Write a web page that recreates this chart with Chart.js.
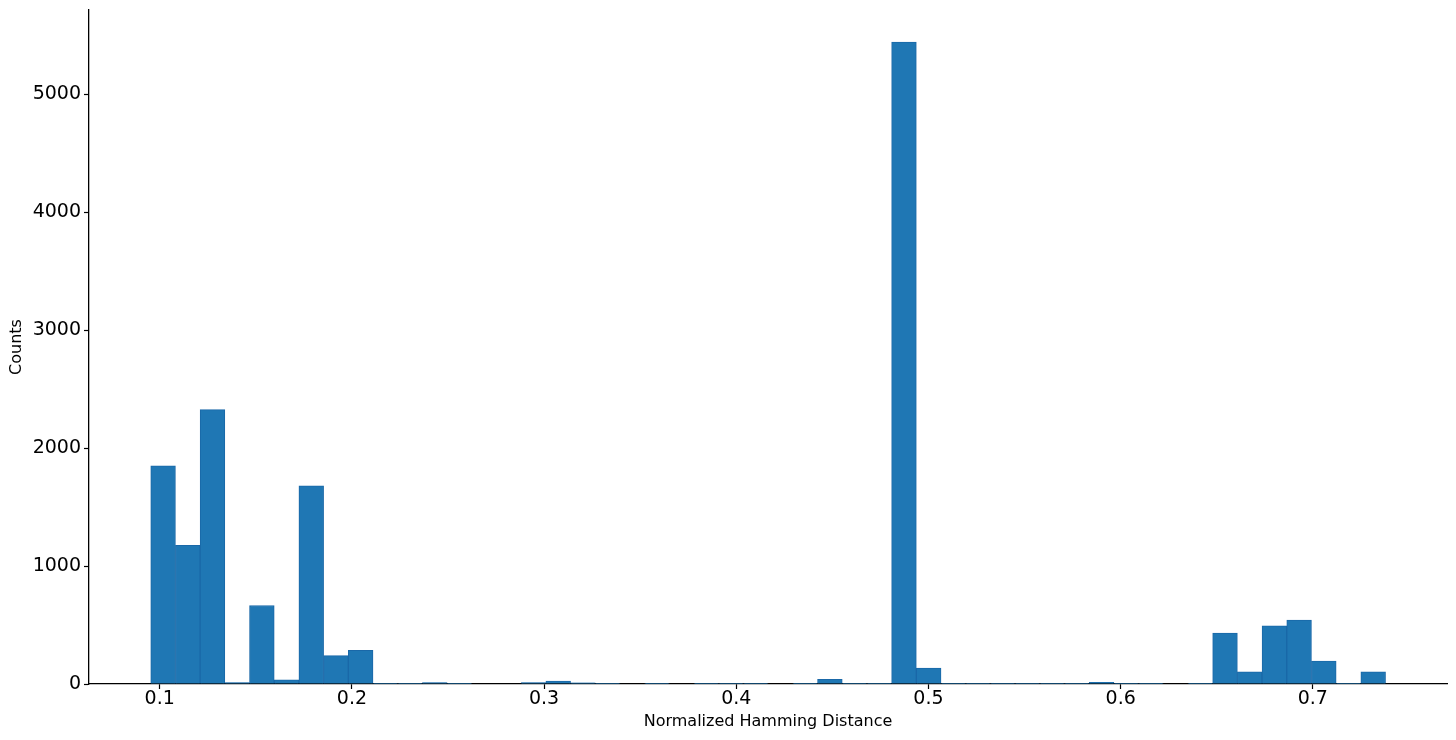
<!DOCTYPE html>
<html>
<head>
<meta charset="utf-8">
<script src="https://cdn.jsdelivr.net/npm/chart.js@4"></script>
<style>
html,body{margin:0;padding:0;background:#fff;}
canvas{display:block;}
</style>
</head>
<body>
<canvas id="c" width="1456" height="740"></canvas>
<script>
// Histogram bin edges (51 edges -> 50 bins)
const binEdges = [
  0.0953, 0.1082, 0.1210, 0.1339, 0.1467, 0.1596, 0.1724, 0.1853, 0.1981, 0.2110,
  0.2238, 0.2367, 0.2495, 0.2624, 0.2752, 0.2881, 0.3009, 0.3138, 0.3266, 0.3395,
  0.3523, 0.3652, 0.3780, 0.3909, 0.4037, 0.4166, 0.4294, 0.4423, 0.4551, 0.4680,
  0.4808, 0.4937, 0.5065, 0.5194, 0.5322, 0.5451, 0.5579, 0.5708, 0.5836, 0.5965,
  0.6093, 0.6222, 0.6350, 0.6479, 0.6607, 0.6736, 0.6864, 0.6993, 0.7121, 0.7250,
  0.7378
];
// Counts per bin
const counts = [
  1850, 1175, 2325, 12, 665, 35, 1680, 240, 285, 3,
  3, 12, 3, 0, 0, 12, 25, 10, 3, 0,
  3, 0, 2, 3, 2, 0, 3, 40, 3, 3,
  5440, 135, 3, 2, 2, 2, 2, 3, 15, 3,
  3, 0, 3, 432, 104, 492, 541, 194, 3, 104
];
const xTickValues = [0.1, 0.2, 0.3, 0.4, 0.5, 0.6, 0.7];
const yTickValues = [0, 1000, 2000, 3000, 4000, 5000];
const xTitle = 'Normalized Hamming Distance';
const yTitle = 'Counts';

const points = counts.map((c, i) => ({ x: (binEdges[i] + binEdges[i + 1]) / 2, y: c }));

const FONT = "'DejaVu Sans', sans-serif";

new Chart(document.getElementById('c'), {
  type: 'bar',
  data: {
    datasets: [{
      data: points,
      backgroundColor: '#1f77b4',
      borderColor: '#1a68a8',
      borderWidth: 1,
      barPercentage: 1,
      categoryPercentage: 1,
      grouped: false
    }]
  },
  options: {
    responsive: false,
    animation: false,
    devicePixelRatio: 1,
    layout: { padding: { top: 10, right: 9, left: 0, bottom: 0 } },
    plugins: { legend: { display: false }, tooltip: { enabled: false } },
    scales: {
      x: {
        type: 'linear',
        min: 0.0632,
        max: 0.7698,
        offset: false,
        afterBuildTicks: s => { s.ticks = xTickValues.map(v => ({ value: v })); },
        afterFit: s => { s.height = 56; s.paddingLeft = 0; s.paddingRight = 0; },
        grid: { offset: false, drawOnChartArea: false, drawTicks: true, tickLength: 5, color: '#000', tickWidth: 1.2 },
        border: { display: true, color: '#000', width: 1.3 },
        ticks: {
          color: '#000', font: { family: FONT, size: 19 }, padding: -1,
          maxRotation: 0, autoSkip: false,
          callback: v => v.toFixed(1)
        },
        title: { display: true, text: xTitle, color: '#000', font: { family: FONT, size: 16 }, padding: { top: 0, bottom: 9 } }
      },
      y: {
        type: 'linear',
        min: 0,
        max: 5712,
        afterBuildTicks: s => { s.ticks = yTickValues.map(v => ({ value: v })); },
        afterFit: s => { s.width = 89; s.paddingTop = 0; s.paddingBottom = 0; },
        grid: { drawOnChartArea: false, drawTicks: true, tickLength: 5, color: '#000', tickWidth: 1.2 },
        border: { display: true, color: '#000', width: 1.3 },
        ticks: {
          color: '#000', font: { family: FONT, size: 19 }, padding: 3,
          callback: v => String(v)
        },
        title: { display: true, text: yTitle, color: '#000', font: { family: FONT, size: 16 }, padding: { top: 7, bottom: 0 } }
      }
    }
  }
});
</script>
</body>
</html>
